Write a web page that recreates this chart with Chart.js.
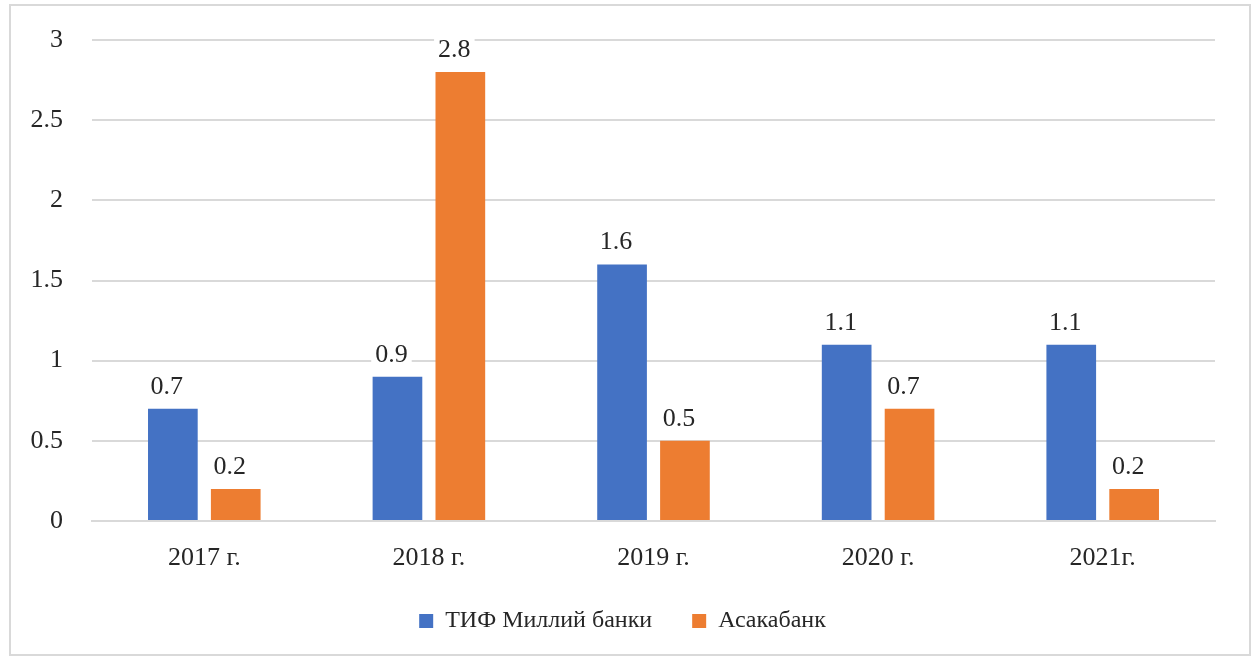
<!DOCTYPE html>
<html>
<head>
<meta charset="utf-8">
<script src="https://cdn.jsdelivr.net/npm/chart.js@4/dist/chart.umd.min.js"></script>
<style>
  html, body { margin: 0; padding: 0; background: #fff; }
  #wrap { width: 1257px; height: 657px; }
</style>
</head>
<body>
<div id="wrap"><canvas id="barChart" width="1257" height="657"></canvas></div>
<script>
var years = ["2017 г.", "2018 г.", "2019 г.", "2020 г.", "2021г."];
var milliyBank = [0.7, 0.9, 1.6, 1.1, 1.1];
var asakaBank = [0.2, 2.8, 0.5, 0.7, 0.2];
var seriesNames = ["ТИФ Миллий банки", "Асакабанк"];
var yTicks = [0, 0.5, 1, 1.5, 2, 2.5, 3];

var fontFamily = "'Liberation Serif', 'Times New Roman', serif";
var textFont = { family: fontFamily, size: 26 };
var legendFont = { family: fontFamily, size: 24 };
var textColor = '#262626';

// value labels above the bars, with white background like in Excel
var valueLabels = {
    id: 'valueLabels',
    afterDatasetsDraw: function(chart) {
        var ctx = chart.ctx;
        ctx.save();
        ctx.font = textFont.size + 'px ' + textFont.family;
        ctx.textAlign = 'center';
        ctx.textBaseline = 'alphabetic';
        chart.data.datasets.forEach(function(ds, i) {
            chart.getDatasetMeta(i).data.forEach(function(bar, j) {
                var txt = String(ds.data[j]);
                var w = ctx.measureText(txt).width;
                var x = bar.x - 6;
                var y = bar.y - 15;
                ctx.fillStyle = '#fff';
                ctx.fillRect(x - w / 2 - 4, y - 21, w + 8, 26);
                ctx.fillStyle = textColor;
                ctx.fillText(txt, x, y);
            });
        });
        ctx.restore();
    }
};

// light frame around the chart
var frame = {
    id: 'frame',
    afterDraw: function(chart) {
        var ctx = chart.ctx;
        ctx.save();
        ctx.strokeStyle = '#d9d9d9';
        ctx.lineWidth = 2;
        ctx.strokeRect(10, 5, 1240, 650);
        ctx.restore();
    }
};

var ctx = document.getElementById('barChart').getContext('2d');

var myChart = new Chart(ctx, {
    type: 'bar',
    data: {
        labels: years,
        datasets: [{
            label: seriesNames[0],
            data: milliyBank,
            backgroundColor: '#4472C4',
            categoryPercentage: 0.56,
            barPercentage: 0.79
        }, {
            label: seriesNames[1],
            data: asakaBank,
            backgroundColor: '#ED7D31',
            categoryPercentage: 0.56,
            barPercentage: 0.79
        }]
    },
    options: {
        responsive: false,
        animation: false,
        layout: {
            padding: { left: 30, right: 42, top: 40, bottom: 14 }
        },
        scales: {
            y: {
                min: 0,
                max: 3,
                afterBuildTicks: function(scale) {
                    scale.ticks = yTicks.map(function(v) { return { value: v }; });
                },
                afterFit: function(scale) {
                    scale.width = 62;
                    scale.paddingTop = 0;  // top is set by layout padding
                },
                border: { display: false },
                grid: { color: '#d9d9d9', lineWidth: 2, drawTicks: false },
                ticks: {
                    font: textFont,
                    color: textColor,
                    padding: 29,
                    callback: function(v) { return String(v); }
                }
            },
            x: {
                afterFit: function(scale) { scale.height = 48; },
                border: { display: true, color: '#d9d9d9', width: 2 },
                grid: { display: false, drawTicks: false },
                ticks: { font: textFont, color: textColor, padding: 22 }
            }
        },
        plugins: {
            legend: {
                position: 'bottom',
                labels: {
                    font: legendFont,
                    color: textColor,
                    boxWidth: 14,
                    boxHeight: 14,
                    padding: 40
                }
            },
            tooltip: { enabled: false }
        }
    },
    plugins: [valueLabels, frame]
});
</script>
</body>
</html>
